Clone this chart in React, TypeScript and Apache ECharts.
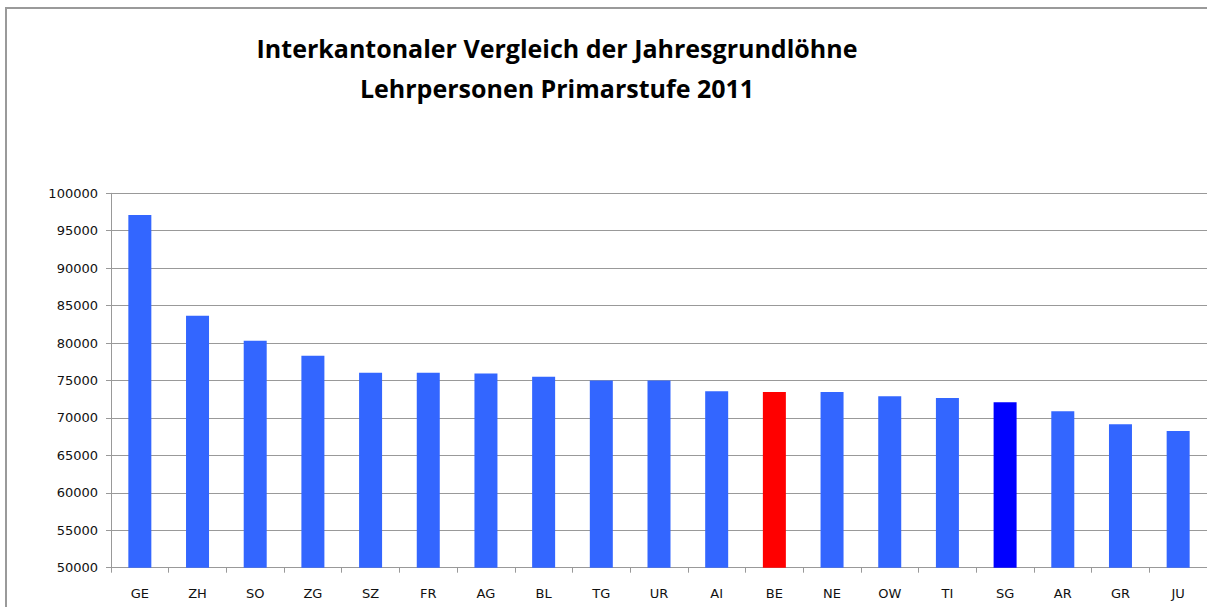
import React, { useEffect, useRef } from "react";
import * as echarts from "echarts";

const categories = ["GE", "ZH", "SO", "ZG", "SZ", "FR", "AG", "BL", "TG", "UR", "AI", "BE", "NE", "OW", "TI", "SG", "AR", "GR", "JU"];
const salaries = [97100, 83650, 80300, 78300, 76050, 76050, 75950, 75500, 75000, 75000, 73550, 73450, 73450, 72900, 72650, 72100, 70900, 69150, 68250];
const titleLines = ["Interkantonaler Vergleich der Jahresgrundlöhne", "Lehrpersonen Primarstufe 2011"];
const yMin = 50000;
const yMax = 100000;
const yStep = 5000;

const BASE_COLOR = "#3366FF";
const HIGHLIGHT: Record<string, string> = { BE: "#FF0000", SG: "#0000FF" };

export default function App() {
  const ref = useRef<HTMLDivElement>(null);
  useEffect(() => {
    if (!ref.current) return;
    const chart = echarts.init(ref.current, undefined, { renderer: "svg" });
    const font = "'DejaVu Sans', sans-serif";
    chart.setOption({
      animation: false,
      backgroundColor: "#ffffff",
      title: {
        text: titleLines.join("\n"),
        left: 552,
        top: 23,
        textAlign: "center",
        textStyle: {
          fontFamily: "'Open Sans', sans-serif",
          fontWeight: "bold",
          fontSize: 25,
          lineHeight: 40,
          color: "#000",
        },
      },
      graphic: [
        {
          type: "rect",
          shape: { x: 6, y: 8, width: 1300, height: 640 },
          style: { fill: "none", stroke: "#9a9a9a", lineWidth: 2 },
          silent: true,
          z: -1,
        },
      ],
      grid: { left: 111, right: -4, top: 193.3, bottom: 39.3, containLabel: false },
      xAxis: {
        type: "category",
        data: categories,
        axisLine: { lineStyle: { color: "#999", width: 1 } },
        axisTick: { show: true, length: 5, lineStyle: { color: "#999" } },
        axisLabel: { fontFamily: font, fontSize: 13, color: "#111", margin: 19 },
      },
      yAxis: {
        type: "value",
        min: yMin,
        max: yMax,
        interval: yStep,
        axisLine: { show: true, lineStyle: { color: "#999", width: 1 } },
        axisTick: { show: true, length: 5, lineStyle: { color: "#999" } },
        axisLabel: {
          fontFamily: font,
          fontSize: 13,
          color: "#111",
          margin: 13,
          formatter: (v: number) => String(v),
        },
        splitLine: { show: true, lineStyle: { color: "#999", width: 1 } },
      },
      series: [
        {
          type: "bar",
          barWidth: 23,
          data: salaries.map((v, i) => ({
            value: v,
            itemStyle: { color: HIGHLIGHT[categories[i]] || BASE_COLOR },
          })),
        },
      ],
    });
    return () => chart.dispose();
  }, []);
  return (
    <div
      ref={ref}
      style={{ position: "fixed", left: 0, top: 0, width: 1207, height: 607 }}
    />
  );
}
